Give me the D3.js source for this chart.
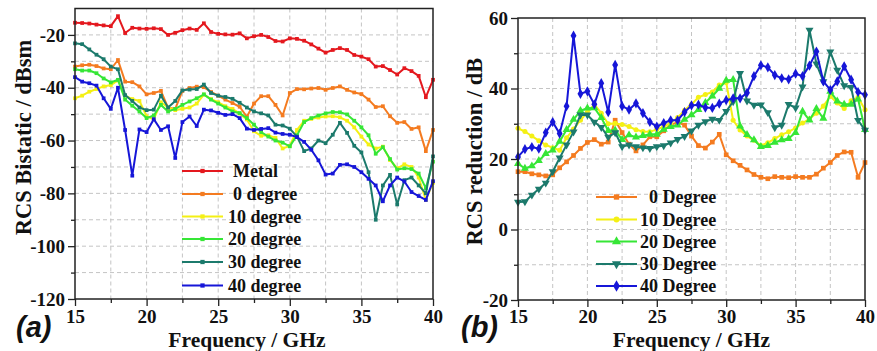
<!DOCTYPE html>
<html><head><meta charset="utf-8">
<script src="https://cdn.jsdelivr.net/npm/d3@7"></script>
<style>html,body{margin:0;padding:0;background:#fff}svg{display:block}</style>
</head><body>
<svg id="c" width="877" height="351"></svg>
<script>
// ---------- data ----------
const freq = [15,15.5,16,16.5,17,17.5,18,18.5,19,19.5,20,20.5,21,21.5,22,22.5,23,23.5,24,24.5,25,25.5,26,26.5,27,27.5,28,28.5,29,29.5,30,30.5,31,31.5,32,32.5,33,33.5,34,34.5,35,35.5,36,36.5,37,37.5,38,38.5,39,39.5,40];

// panel (a) RCS bistatic (dBsm)
const metalA = [-15.4,-15.5,-15.7,-16.1,-16.4,-16.7,-12.9,-19.3,-17.3,-17.6,-17.7,-17.5,-17.8,-20.0,-19.2,-18.2,-17.6,-18.1,-15.6,-18.9,-19.6,-19.8,-19.9,-19.4,-21.3,-20.5,-20.0,-20.8,-22.3,-22.5,-21.3,-21.5,-22.2,-23.6,-25.2,-26.7,-25.7,-25.0,-25.7,-27.6,-28.2,-29.2,-32.0,-31.8,-33.3,-35.0,-32.6,-33.7,-35.5,-43.6,-37.0];
const deg0A = [-32.0,-31.5,-31.3,-31.8,-32.7,-33.0,-29.5,-37.7,-37.9,-39.5,-42.5,-42.0,-41.2,-47.6,-48.0,-41.2,-40.1,-39.6,-39.8,-41.6,-43.0,-44.5,-45.8,-47.2,-51.0,-46.0,-43.2,-43.2,-46.5,-50.5,-42.0,-40.5,-40.6,-40.3,-40.1,-40.8,-40.1,-39.5,-40.8,-41.8,-42.4,-44.5,-47.3,-47.0,-50.8,-53.3,-53.0,-55.6,-55.0,-64.0,-56.0];
const deg10A = [-44,-43,-41.5,-40.5,-39.5,-39,-37.2,-43,-44.3,-45,-50.8,-52,-45.5,-47.5,-48.5,-48,-47.5,-46,-42.6,-44.3,-45.5,-47,-48,-49.8,-52,-56.5,-58.2,-58,-59,-63,-62,-56,-52.5,-51.8,-51.3,-50.9,-50.8,-51.2,-52.5,-55,-58.5,-61.5,-63,-62.3,-67.4,-70.5,-69,-70,-74,-82.5,-76];
const deg20A = [-33,-33.5,-33.5,-34.5,-36.5,-38,-37,-44.5,-46.8,-49,-51.5,-50.5,-46.5,-49,-48,-46.5,-45.2,-44,-42.5,-44.5,-46,-47.5,-49,-49.6,-51.5,-54,-56.8,-58.5,-60,-60.8,-62.2,-58,-53,-51.5,-50.5,-49.7,-49.2,-49.3,-50.1,-52.5,-55,-58,-65,-62.5,-67,-71,-70.5,-70.8,-72.5,-78,-68];
const deg30A = [-23.2,-23.5,-25.5,-27.5,-29.2,-32,-33,-42.8,-45,-47.5,-48.5,-48.3,-43,-47.5,-45,-41,-40.7,-40.5,-38.8,-42,-43,-43.5,-44.2,-45.7,-47.5,-49,-49.7,-50.5,-54,-54.3,-55.5,-58.5,-64,-63,-60,-61,-57.8,-53.3,-57.1,-62,-64.5,-72,-90,-77,-73,-84.2,-75,-74,-77,-80,-66];
const deg40A = [-36,-37.7,-38.3,-39.2,-44,-48,-40,-56,-73.3,-55.8,-56.8,-51.9,-56,-54.6,-66.6,-53,-50.9,-54.5,-48.3,-48.6,-49.5,-50.3,-50,-51.5,-55.5,-56,-55.6,-55.3,-57,-57.5,-57.8,-58.7,-60.5,-63.5,-67.5,-72.9,-72.5,-69.2,-69,-70,-72,-74.5,-77,-83,-77,-74,-75.5,-79.5,-81,-82.5,-75.4];

// panel (b) RCS reduction (dB)
const deg0B = [16.4,16.4,15.8,15.5,15.2,15.5,17.5,19.2,21,23,24.7,25.5,24.2,24.8,31,27.5,24.2,22.3,24,26.3,26.3,28,29.7,30.4,29.6,26.5,23.8,23.1,24.8,27,21.2,19.5,18.2,16.9,15.6,14.8,14.4,15,14.8,14.7,15,14.8,14.8,15.7,17.4,19,21,22,21.9,14.8,19];
const deg10B = [28.7,27.8,26.5,25.2,24,23.2,22.5,26,28.5,31,33.3,35.5,33,30,30.1,29.8,29.2,28.3,27.8,27.7,28.4,29.2,30.2,31.8,33.8,35.5,37.5,38.3,39,41,41.7,31,28.2,26.5,25.3,23.8,24.6,25.8,26.9,27.7,28.8,30.2,31.4,33,35,37.8,35.9,34.3,36.5,37.5,34];
const deg20B = [18.7,17.3,18,19.5,21.5,22.5,25,28.3,31.2,33.7,34.4,34.5,31.7,28,28.2,25.5,26.8,26.2,26.6,27,27,28.4,29.2,29.6,31.2,32.5,34,36,37.8,40,42.3,42.5,29.3,26.9,25.4,23.5,23.8,24.7,25.4,25.8,27.5,33.5,31,34.3,31.5,39.2,36.4,35.5,35.5,37,28.3];
const deg30B = [7.8,7.9,9.8,11.5,13.2,16.4,20.3,24,27.7,32.5,32.5,30.5,29,26.2,27.5,23.5,24,23.5,23.2,23,23.5,23.8,24.6,25.6,26.4,28,29.6,30.6,31.3,31,33.5,36.3,44.3,36.5,35.3,35.4,33.2,28.9,29.6,35.5,34.5,40.5,56.6,47,42,50.4,45.2,40.8,40.3,31,28.2];
const deg40B = [20.6,22.8,23.4,22.9,27.5,30.5,27.2,35,55,38.5,39.2,35.5,41.5,33.3,46.7,35,34,35.8,33,30.5,29.2,30.2,31,31,33.3,35.2,35.4,34.6,34.5,35.7,36.7,37.2,37.2,38.8,43.5,46.6,46,43.8,42.9,42.6,44.2,43.5,46.5,50.5,42,39.6,42,46.3,42.5,39,38.2];

// labels & ticks
const namesA = ["Metal","0 degree","10 degree","20 degree","30 degree","40 degree"];
const namesB = ["0 Degree","10 Degree","20 Degree","30 Degree","40 Degree"];
const xTicks = [15,20,25,30,35,40];
const xMinor = [17.5,22.5,27.5,32.5,37.5];
const yTicksA = [-120,-100,-80,-60,-40,-20];
const yMinorA = [-110,-90,-70,-50,-30];
const yTicksB = [-20,0,20,40,60];
const yMinorB = [-10,10,30,50];

// ---------- styles ----------
const C = {metal:"#e4181e", o:"#f47b20", y:"#f4f014", g:"#36e636", t:"#1c7a6c", b:"#1616d8"};
const SERIF = "'Liberation Serif','Times New Roman',serif";
const svg = d3.select("#c");

function drawPanel(p) {
  const x = d3.scaleLinear().domain([15,40]).range([p.l,p.r]);
  const y = d3.scaleLinear().domain(p.yDom).range([p.b,p.t]);
  const g = svg.append("g");
  // grid
  const gx = xTicks.concat(xMinor).filter(v => v>15 && v<40);
  const gy = p.yT.concat(p.yM).filter(v => v>p.yDom[0] && v<p.yDom[1]);
  g.selectAll(null).data(gx).join("line")
    .attr("x1", d=>x(d)).attr("x2", d=>x(d)).attr("y1", p.t).attr("y2", p.b)
    .attr("stroke","#c4c4c4").attr("stroke-width",1).attr("stroke-dasharray","4,3");
  g.selectAll(null).data(gy).join("line")
    .attr("y1", d=>y(d)).attr("y2", d=>y(d)).attr("x1", p.l).attr("x2", p.r)
    .attr("stroke","#c4c4c4").attr("stroke-width",1).attr("stroke-dasharray","4,3");

  // series
  p.series.forEach(s => {
    const pts = freq.map((f,i)=>[f, s.v[i]]);
    const line = d3.line().x(d=>x(d[0])).y(d=>y(d[1]));
    g.append("path").attr("d", line(pts)).attr("fill","none")
      .attr("stroke", s.c).attr("stroke-width", 2).attr("stroke-linejoin","round");
    const sym = d3.symbol().type(s.sym).size(s.size);
    g.selectAll(null).data(pts).join("path")
      .attr("d", sym())
      .attr("transform", d=>`translate(${x(d[0])},${y(d[1])}) rotate(${s.rot||0})`)
      .attr("fill", s.c);
  });

  // frame
  g.append("rect").attr("x",p.l).attr("y",p.t).attr("width",p.r-p.l).attr("height",p.b-p.t)
    .attr("fill","none").attr("stroke","#222").attr("stroke-width",1.5);

  // axes
  g.append("g").attr("transform",`translate(0,${p.b})`)
    .call(d3.axisBottom(x).tickValues(xTicks).tickSize(7).tickPadding(p.xPad).tickFormat(d3.format("d")));
  g.append("g").attr("transform",`translate(0,${p.b})`)
    .call(d3.axisBottom(x).tickValues(xMinor).tickSize(4).tickFormat(""));
  g.append("g").attr("transform",`translate(${p.l},0)`)
    .call(d3.axisLeft(y).tickValues(p.yT).tickSize(7).tickPadding(3).tickFormat(d=>d3.format("d")(d).replace("\u2212","-")));
  g.append("g").attr("transform",`translate(${p.l},0)`)
    .call(d3.axisLeft(y).tickValues(p.yM).tickSize(4).tickFormat(""));
  g.selectAll(".domain").remove();
  g.selectAll(".tick line").attr("stroke","#222").attr("stroke-width",1.3);
  g.selectAll(".tick text").attr("font-family",SERIF).attr("font-weight","bold")
    .attr("font-size","19px").attr("fill","#111");

  // titles
  g.append("text").attr("x",p.xtX).attr("y",p.xtY).attr("text-anchor","middle")
    .attr("font-family",SERIF).attr("font-weight","bold").attr("font-size","21.5px").attr("fill","#111")
    .text("Frequency / GHz");
  g.append("text").attr("transform",`translate(${p.ytX},${p.ytY}) rotate(-90)`).attr("text-anchor","middle")
    .attr("font-family",SERIF).attr("font-weight","bold").attr("font-size","22.5px").attr("fill","#111")
    .text(p.ytitle);
  g.append("text").attr("x",p.labX).attr("y",p.labY)
    .attr("font-family","'Liberation Sans',Arial,sans-serif").attr("font-weight","bold")
    .attr("font-style","italic").attr("font-size","29px").attr("fill","#111").text(p.lab);

  // legend
  p.series.forEach((s,i) => {
    const ly = p.legY[i];
    g.append("line").attr("x1",p.legX1).attr("x2",p.legX2).attr("y1",ly).attr("y2",ly)
      .attr("stroke",s.c).attr("stroke-width",2);
    g.append("path").attr("d", d3.symbol().type(s.sym).size(s.size*1.3)())
      .attr("transform",`translate(${(p.legX1+p.legX2)/2},${ly}) rotate(${s.rot||0})`).attr("fill",s.c);
    g.append("text").attr("x", p.legTX[i]).attr("y", ly+6)
      .attr("font-family",SERIF).attr("font-weight","bold").attr("font-size","18px").attr("fill","#111")
      .text(s.name);
  });
}

drawPanel({
  l:75, r:433, t:8.5, b:299, yDom:[-120,-10], yT:yTicksA, yM:yMinorA, xPad:4,
  xtX:247, xtY:347, ytX:31, ytY:137.5, ytitle:"RCS Bistatic / dBsm",
  lab:"(a)", labX:16, labY:337,
  legX1:182, legX2:223, legY:[171,194,216.5,239,262,285.5], legTX:[233,233,228,228,228,228],
  series:[
    {name:namesA[0], v:metalA, c:C.metal, sym:d3.symbolSquare, size:14},
    {name:namesA[1], v:deg0A, c:C.o, sym:d3.symbolSquare, size:14},
    {name:namesA[2], v:deg10A, c:C.y, sym:d3.symbolSquare, size:14},
    {name:namesA[3], v:deg20A, c:C.g, sym:d3.symbolSquare, size:14},
    {name:namesA[4], v:deg30A, c:C.t, sym:d3.symbolSquare, size:14},
    {name:namesA[5], v:deg40A, c:C.b, sym:d3.symbolSquare, size:14}
  ]
});

drawPanel({
  l:518, r:865, t:18, b:300, yDom:[-20,60], yT:yTicksB, yM:yMinorB, xPad:3,
  xtX:691.5, xtY:347, ytX:482, ytY:151.5, ytitle:"RCS reduction / dB",
  lab:"(b)", labX:461, labY:337,
  legX1:596, legX2:637, legY:[197,219.5,241.5,264,286], legTX:[649,640,640,640,640],
  series:[
    {name:namesB[0], v:deg0B, c:C.o, sym:d3.symbolSquare, size:22},
    {name:namesB[1], v:deg10B, c:C.y, sym:d3.symbolCircle, size:20},
    {name:namesB[2], v:deg20B, c:C.g, sym:d3.symbolTriangle, size:28},
    {name:namesB[3], v:deg30B, c:C.t, sym:d3.symbolTriangle, size:28, rot:180},
    {name:namesB[4], v:deg40B, c:C.b, sym:d3.symbolDiamond, size:30}
  ]
});
</script>
</body></html>
